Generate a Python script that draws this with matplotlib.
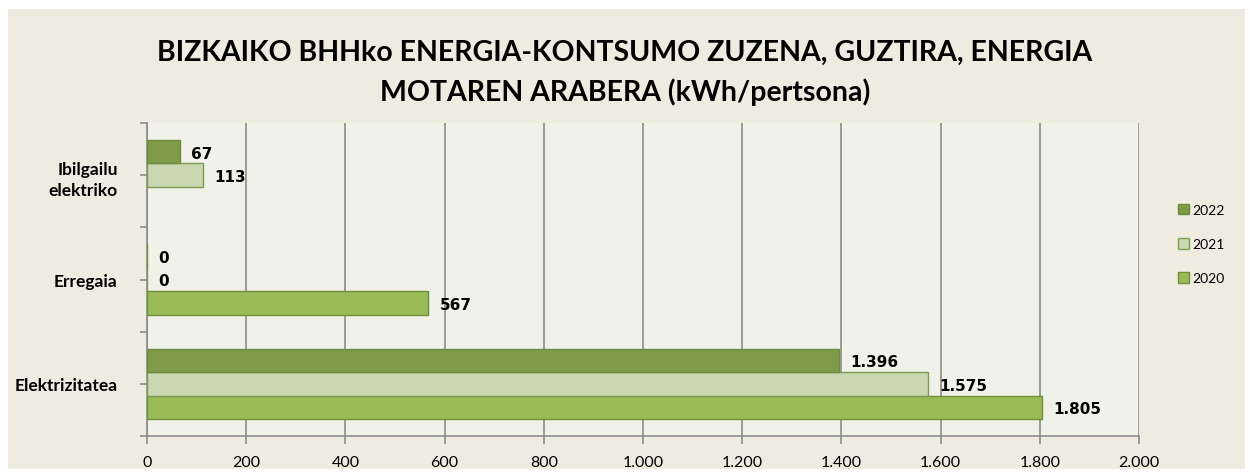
import numpy as np
import matplotlib.pyplot as plt
from matplotlib.patches import Rectangle
from matplotlib.ticker import FuncFormatter, MultipleLocator

categories = ['Elektrizitatea', 'Erregaia', 'Ibilgailu\nelektriko']
years = ['2020', '2021', '2022']
values_2020 = [1805, 567, np.nan]
values_2021 = [1575, 0, 113]
values_2022 = [1396, 0, 67]

colors = {'2020': '#9BBB59', '2021': '#C9D8B0', '2022': '#7F9A48'}
edges = {'2020': '#6F8F38', '2021': '#7E9A50', '2022': '#6F8A3C'}

title_font = ['Lato', 'DejaVu Sans']
plt.rcParams['font.family'] = ['Lato', 'DejaVu Sans']

fig = plt.figure(figsize=(12.5, 4.77), dpi=100)
fig.patch.set_facecolor('white')
fig.patches.append(Rectangle((8 / 1250, 7 / 477), 1237 / 1250, 460 / 477,
                             transform=fig.transFigure, facecolor='#EEEBE0',
                             edgecolor='none', zorder=-5))

ax = fig.add_axes([147 / 1250, 40 / 477, 992 / 1250, 313 / 477])
ax.set_zorder(2)
ax.set_facecolor('#F0F2EA')

y = np.arange(len(categories))
h = 0.225
series = [('2020', values_2020, -h), ('2021', values_2021, 0), ('2022', values_2022, h)]
for year, vals, off in series:
    vals = np.array(vals, dtype=float)
    ok = ~np.isnan(vals)
    ax.barh(y[ok] + off, vals[ok], height=h, color=colors[year],
            edgecolor=edges[year], linewidth=1, label=year, zorder=3)
    for yi, v in zip(y[ok], vals[ok]):
        txt = '{:,.0f}'.format(v).replace(',', '.')
        ax.annotate(txt, (v, yi + off), xytext=(8, 0), textcoords='offset points',
                    ha='left', va='center_baseline', fontsize=11, fontweight='bold',
                    family=['DejaVu Sans'], color='black', zorder=4)

ax.set_xlim(0, 2000)
ax.set_ylim(-0.5, 2.5)
ax.xaxis.set_major_locator(MultipleLocator(200))
ax.xaxis.set_major_formatter(FuncFormatter(lambda v, p: '{:,.0f}'.format(v).replace(',', '.')))
ax.grid(axis='x', color='#8C8C8C', linewidth=1.2, zorder=1)
ax.set_axisbelow(True)

ax.set_yticks(y)
ax.set_yticklabels(categories, fontsize=12.5, fontweight='bold', ha='right',
                   linespacing=1.4)
ax.tick_params(axis='y', length=5, color='#8C8C8C', width=1.2, pad=16)
ax.set_yticks([-0.5, 0.5, 1.5, 2.5], minor=True)
ax.tick_params(axis='y', which='minor', length=5, color='#8C8C8C', width=1.2)
ax.tick_params(axis='x', length=6, color='#8C8C8C', width=1.2, labelsize=11.5, pad=8)

for s in ['top', 'right']:
    ax.spines[s].set_visible(False)
ax.spines['left'].set_color('#8C8C8C')
ax.spines['left'].set_linewidth(1.2)
ax.spines['bottom'].set_color('#8C8C8C')
ax.spines['bottom'].set_linewidth(1.2)

handles, labels = ax.get_legend_handles_labels()
leg = fig.legend(handles[::-1], labels[::-1], loc='center left',
                 bbox_to_anchor=(1165 / 1250, 1 - 245 / 477), frameon=False,
                 fontsize=10, handlelength=0.8, handleheight=0.8,
                 labelspacing=1.6, handletextpad=0.3)

fig.text(0.5, 1 - 73 / 477, 'BIZKAIKO BHHko ENERGIA-KONTSUMO ZUZENA, GUZTIRA, ENERGIA\nMOTAREN ARABERA (kWh/pertsona)',
         ha='center', va='center', fontsize=20.5, fontweight='bold',
         family=title_font, linespacing=1.55)

fig.savefig('out.png', dpi=100)
